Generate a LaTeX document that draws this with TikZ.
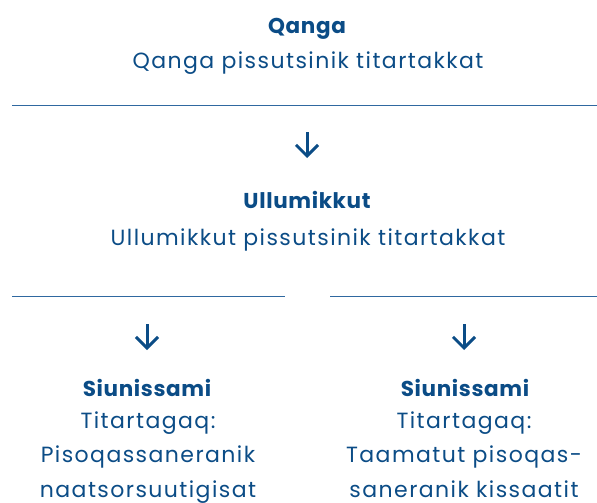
\documentclass[tikz,border=0pt]{standalone}
\usepackage{fontspec}
\setmainfont{Poppins}[LetterSpace=3.0]
\newfontfamily\subfont{Poppins}[LetterSpace=6.5]
\usetikzlibrary{arrows.meta}
\definecolor{ink}{HTML}{0B4C86}
\definecolor{rulec}{HTML}{2F68A0}
\begin{document}
\begin{tikzpicture}[x=1pt,y=-1pt,
  every node/.style={inner sep=0pt, outer sep=0pt, text=ink, anchor=base},
  ttl/.style={font=\fontsize{21.5}{34}\selectfont\bfseries},
  sub/.style={font=\subfont\fontsize{22}{34.5}\selectfont, align=center},
  rule/.style={draw=rulec, line width=1.5pt},
  arr/.style={draw=ink, line width=3pt, -{Straight Barb[length=11pt, width=22pt, line width=3pt]}}]
\useasboundingbox (0,0) rectangle (597,503);
% top block
\node[ttl] (t1) at (307,34) {Qanga};
\node[sub] (s1) at (308,68) {Qanga pissutsinik titartakkat};
\draw[rule] (12,105.5) coordinate (r1a) -- (597,105.5) coordinate (r1b);
\coordinate (a1s) at (307,132);
\coordinate (a1e) at (307,158);
\draw[arr] (a1s) -- (a1e);
% middle block
\node[ttl] (t2) at (307,208) {Ullumikkut};
\node[sub] (s2) at (308,245) {Ullumikkut pissutsinik titartakkat};
\draw[rule] (12,296.5) coordinate (r2a) -- (285,296.5) coordinate (r2b);
\draw[rule] (330,296.5) coordinate (r3a) -- (597,296.5) coordinate (r3b);
\coordinate (a2s) at (147,324);
\coordinate (a2e) at (147,350);
\draw[arr] (a2s) -- (a2e);
\coordinate (a3s) at (464,324);
\coordinate (a3e) at (464,350);
\draw[arr] (a3s) -- (a3e);
% bottom blocks
\node[ttl] (t3) at (147,396) {Siunissami};
\node[sub] (s3) at (148,497) {Titartagaq:\\Pisoqassaneranik\\naatsorsuutigisat};
\node[ttl] (t4) at (465,396) {Siunissami};
\node[sub] (s4) at (464,497) {Titartagaq:\\Taamatut pisoqas-\\saneranik kissaatit};
\end{tikzpicture}
\end{document}
